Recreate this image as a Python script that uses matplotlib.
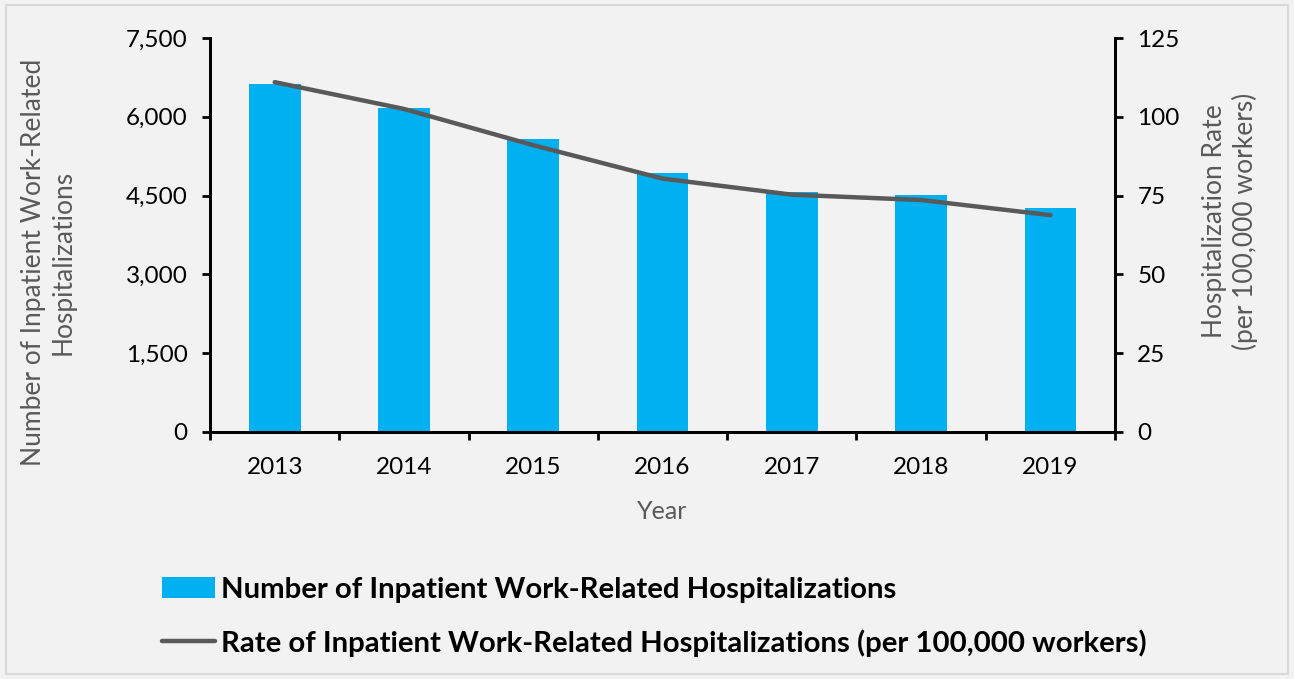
import numpy as np
import matplotlib.pyplot as plt
from matplotlib.patches import Rectangle, Patch
from matplotlib.lines import Line2D
from matplotlib.ticker import FuncFormatter

# Data
years = ["2013", "2014", "2015", "2016", "2017", "2018", "2019"]
hospitalizations = [6624, 6168, 5577, 4930, 4569, 4511, 4264]
rate_per_100k = [111.0, 102.5, 91.0, 80.4, 75.3, 73.6, 68.8]

bar_label = "Number of Inpatient Work-Related Hospitalizations"
line_label = "Rate of Inpatient Work-Related Hospitalizations (per 100,000 workers)"

plt.rcParams['font.family'] = ['Lato', 'DejaVu Sans']

bg = "#f2f2f2"
bar_color = "#00b0f0"
line_color = "#595959"
label_gray = "#595959"

fig = plt.figure(figsize=(12.94, 6.79), dpi=100, facecolor=bg)
ax = fig.add_axes([0.1623, 0.3638, 0.6994, 0.5802])
ax.set_facecolor(bg)
ax2 = ax.twinx()

x = np.arange(len(years))
ax.bar(x, hospitalizations, width=0.4, color=bar_color, zorder=2)
ax2.plot(x, rate_per_100k, color=line_color, lw=3.2, solid_capstyle='round', zorder=3)

ax.set_xlim(-0.5, len(years) - 0.5)
ax.set_ylim(0, 7500)
ax.set_yticks(np.arange(0, 7501, 1500))
ax.yaxis.set_major_formatter(FuncFormatter(lambda v, p: f"{int(v):,}"))
ax2.set_ylim(0, 125)
ax2.set_yticks(np.arange(0, 126, 25))

# category ticks: labels at centers, tick marks at boundaries
ax.set_xticks(x)
ax.set_xticklabels(years)
ax.tick_params(axis='x', which='major', length=0, labelsize=17.5, pad=18)
ax.set_xticks(np.arange(-0.5, len(years), 1), minor=True)
ax.tick_params(axis='x', which='minor', length=6, width=2, direction='out')

ax.tick_params(axis='y', length=6, width=2, direction='out', labelsize=17.5, pad=10)
ax2.tick_params(axis='y', length=6, width=2, direction='out', labelsize=17.5, pad=10)

for a in (ax, ax2):
    a.spines['top'].set_visible(False)
    for s in ('left', 'right', 'bottom'):
        a.spines[s].set_linewidth(2)
        a.spines[s].set_color('black')

ax.set_xlabel("Year", fontsize=18, color=label_gray, labelpad=16)
ax.set_ylabel("Number of Inpatient Work-Related\nHospitalizations", fontsize=19,
              color=label_gray, labelpad=36, linespacing=1.25)
ax.yaxis.label.set_y(0.43)
ax2.set_ylabel("Hospitalization Rate\n(per 100,000 workers)", fontsize=19,
               color=label_gray, rotation=90, labelpad=16, linespacing=1.25)
ax2.yaxis.label.set_y(0.535)

handles = [Patch(facecolor=bar_color, edgecolor='none'),
           Line2D([0], [0], color=line_color, lw=3.2, solid_capstyle='round')]
fig.legend(handles, [bar_label, line_label], loc='upper left',
           bbox_to_anchor=(0.116, 0.168), frameon=False,
           prop={'weight': 'bold', 'size': 21.2}, handlelength=1.8,
           handletextpad=0.2, labelspacing=0.9, borderaxespad=0)

# light outer border
fig.patches.append(Rectangle((0.005, 0.008), 0.99, 0.984, transform=fig.transFigure,
                             fill=False, edgecolor='#d9d9d9', lw=1.5))

fig.savefig("out.png", dpi=100, facecolor=bg)
